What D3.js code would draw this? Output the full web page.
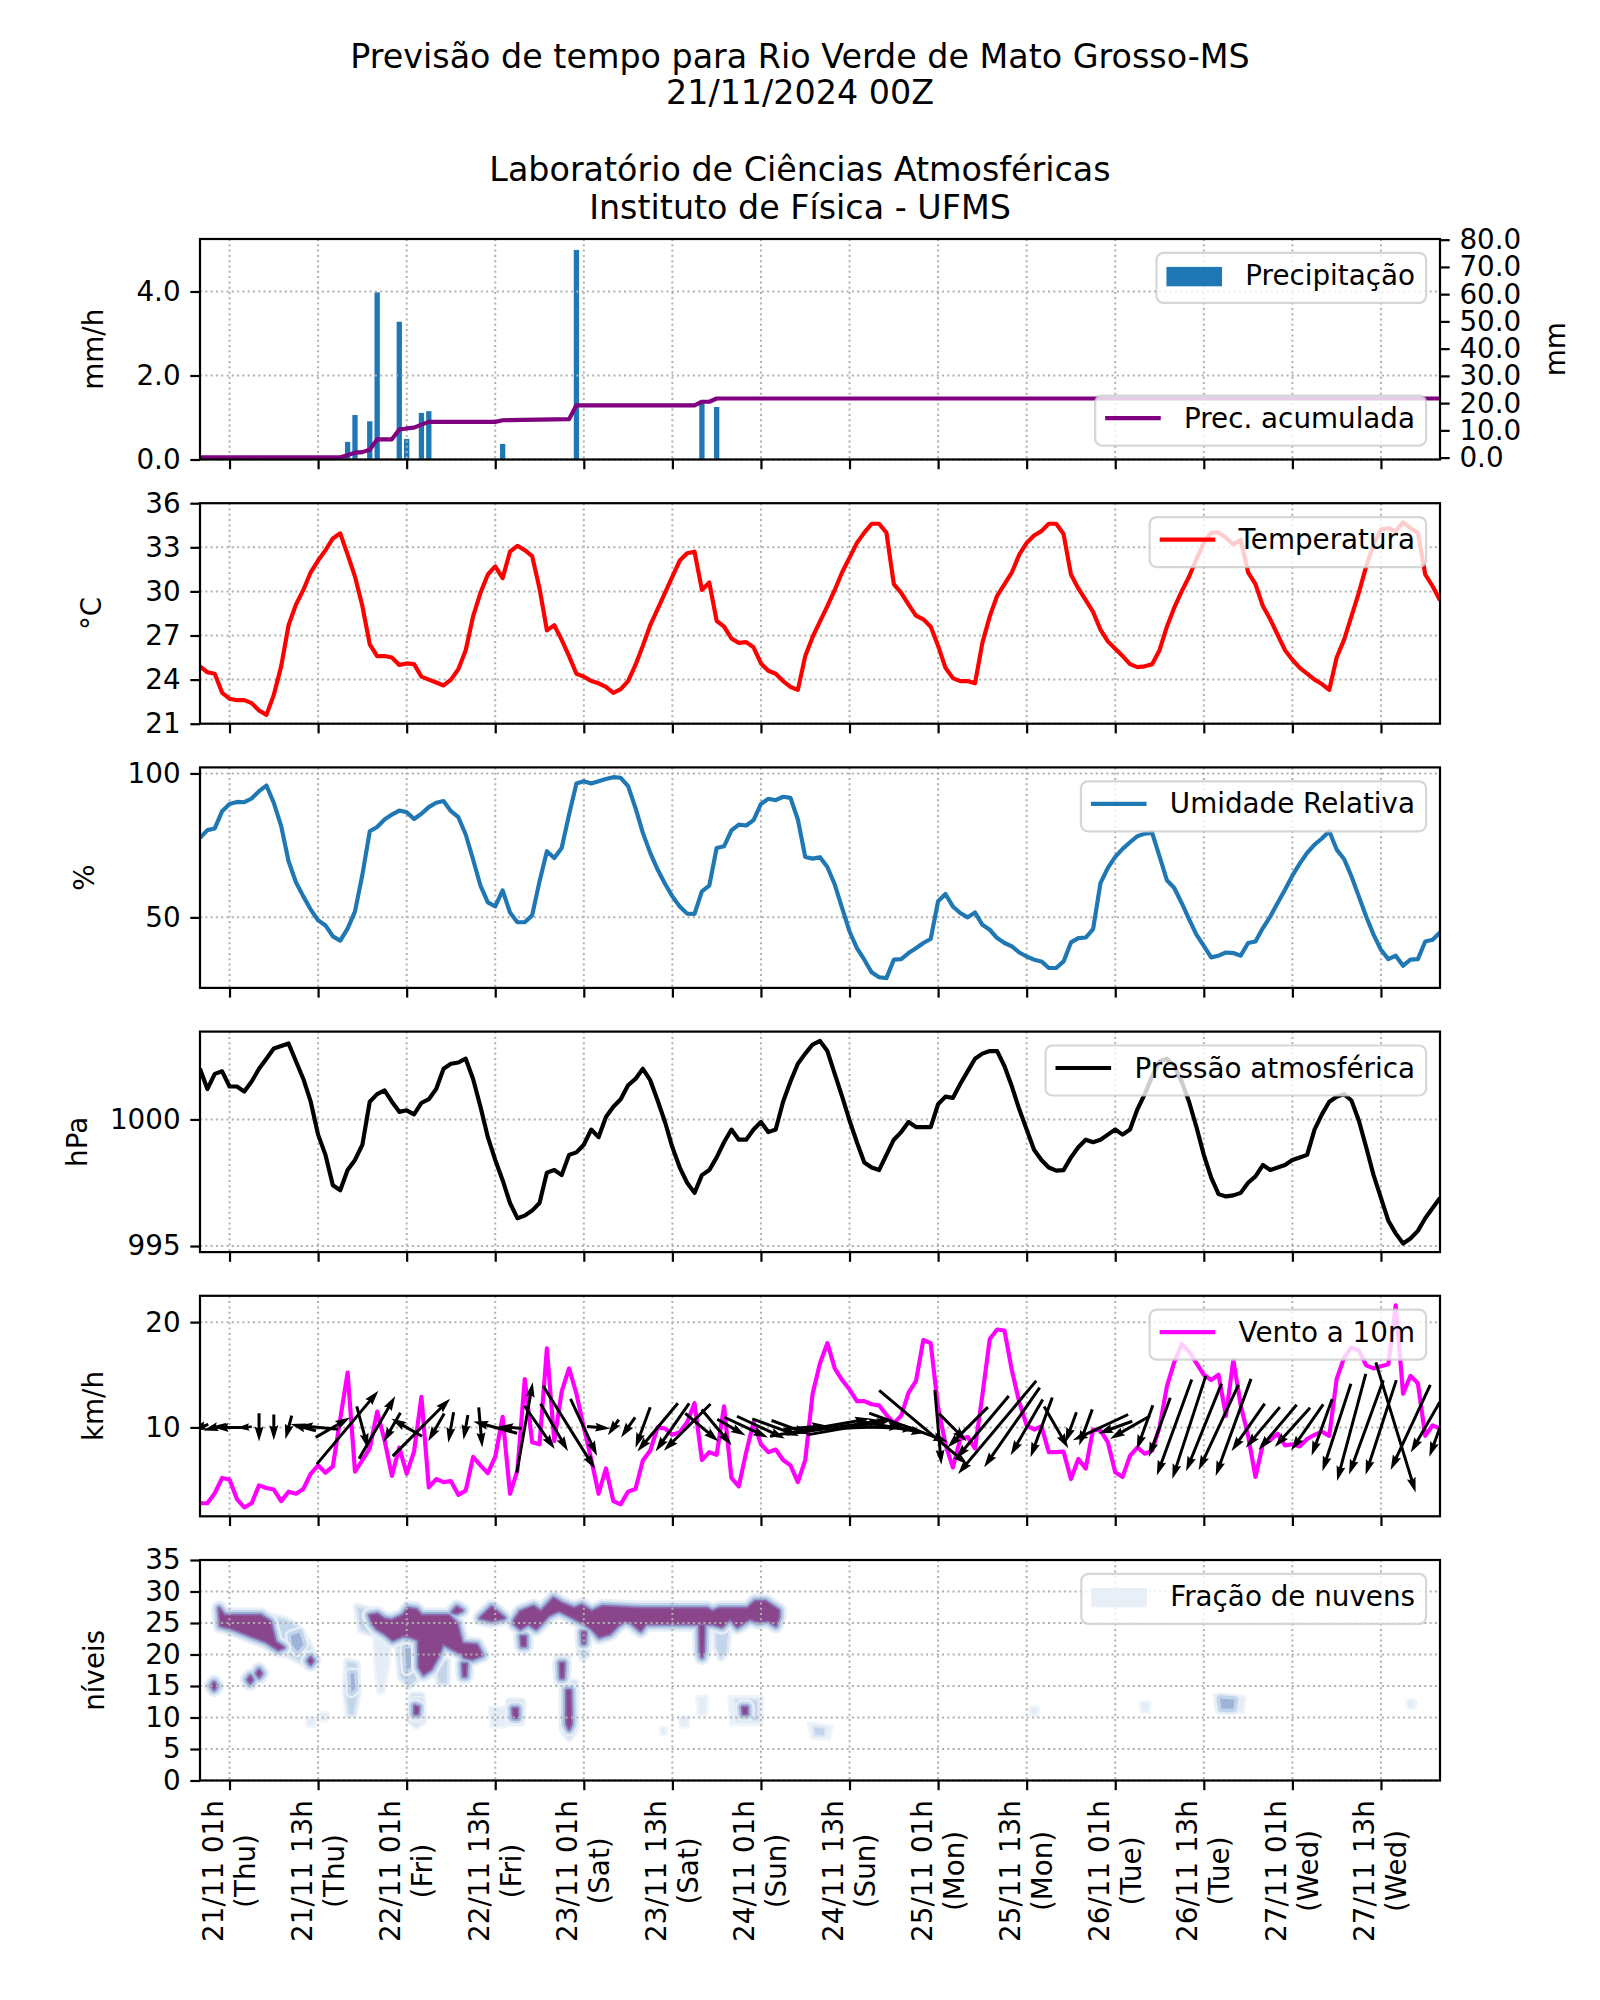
<!DOCTYPE html>
<html><head><meta charset="utf-8">
<script src="https://cdn.jsdelivr.net/npm/d3@7"></script>
<style>body{margin:0;background:#fff} svg{display:block} text{font-family:"DejaVu Sans",sans-serif;fill:#000}</style>
</head><body><svg id="c" width="1600" height="2000"></svg>
<script>
// ---------------- DATA ----------------
const titleLines = ["Previsão de tempo para Rio Verde de Mato Grosso-MS","21/11/2024 00Z"];
const subtitleLines = ["Laboratório de Ciências Atmosféricas","Instituto de Física - UFMS"];
// x axis: hours since 20/11 21h local (first forecast hour)
const xTickHours = [4,16,28,40,52,64,76,88,100,112,124,136,148,160];
const xTickDates = ["21/11 01h","21/11 13h","22/11 01h","22/11 13h","23/11 01h","23/11 13h","24/11 01h","24/11 13h","25/11 01h","25/11 13h","26/11 01h","26/11 13h","27/11 01h","27/11 13h"];
const xTickDays = ["(Thu)","(Thu)","(Fri)","(Fri)","(Sat)","(Sat)","(Sun)","(Sun)","(Mon)","(Mon)","(Tue)","(Tue)","(Wed)","(Wed)"];

const precipHours = [20,21,23,24,27,28,30,31,41,51,68,70];
const precipValues = [0.42,1.06,0.91,3.98,3.28,0.49,1.11,1.15,0.37,4.99,1.34,1.25];
const acumHours = [0,19,20,21,22,23,24,26,27,28,29,30,31,40,41,50,51,67,68,69,70,168];
const acumValues = [0.1,0.1,0.9,1.8,2.0,2.9,6.7,6.7,10.3,10.7,11.0,12.1,13.1,13.1,13.7,14.1,19.2,19.2,20.5,20.5,21.7,21.7];

// hourly series, hour 0..168
const temperature = [24.9,24.5,24.4,23.1,22.7,22.6,22.6,22.4,21.9,21.6,22.96,24.9,27.7,29.1,30.1,31.3,32.1,32.8,33.6,33.95,
32.5,31.0,29.0,26.4,25.6,25.6,25.5,25.0,25.1,25.05,24.2,24.0,23.8,23.6,24.0,24.7,26.0,28.3,29.9,31.15,
31.7,30.9,32.7,33.1,32.8,32.4,30.2,27.35,27.7,26.7,25.6,24.4,24.2,23.9,23.75,23.5,23.1,23.35,23.9,25.0,
26.3,27.7,28.8,29.9,31.0,32.1,32.6,32.7,30.1,30.6,28.0,27.6,26.8,26.5,26.55,26.2,25.1,24.6,24.4,23.9,
23.5,23.3,25.6,26.9,27.96,29.0,30.1,31.3,32.3,33.3,34.0,34.6,34.6,34.0,30.5,29.9,29.1,28.35,28.1,27.6,
26.3,24.8,24.1,23.9,23.9,23.75,26.5,28.3,29.7,30.5,31.3,32.5,33.3,33.8,34.1,34.6,34.6,33.9,31.15,30.2,
29.4,28.6,27.4,26.6,26.1,25.6,25.05,24.85,24.9,25.05,26.0,27.6,28.9,30.0,31.0,32.2,33.3,34.0,34.0,33.65,
33.2,33.5,31.3,30.5,29.0,28.1,27.05,26.0,25.35,24.8,24.4,24.0,23.7,23.3,25.5,26.7,28.3,29.9,31.7,33.2,
34.2,34.3,34.1,34.7,34.3,34.0,31.15,30.35,29.4];
const humidity = [77.6,80.3,80.9,86.9,89.4,90.1,90.0,91.3,93.85,95.8,89.8,81.7,69.5,62.2,57.3,52.7,49.0,47.2,43.4,41.9,
46.1,52.1,64.8,79.9,81.4,84.0,85.7,87.1,86.5,84.2,86.0,88.3,89.8,90.4,86.9,84.8,78.8,70.1,61.0,55.2,
53.8,59.4,51.7,48.3,48.3,50.7,62.5,73.0,70.6,74.1,85.7,96.5,97.3,96.5,97.3,98.1,98.7,98.5,95.6,88.05,
79.35,72.4,66.6,61.7,57.3,53.8,51.3,51.2,59.05,61.0,74.1,74.7,80.2,82.2,81.9,83.8,89.4,91.2,90.7,91.9,
91.5,84.0,71.0,70.4,70.9,67.5,61.4,53.2,45.1,39.3,35.3,30.9,29.2,28.9,35.3,35.5,37.6,39.3,41.1,42.5,
55.6,58.1,53.8,51.5,50.0,51.7,47.4,45.7,42.8,41.1,39.9,37.8,36.4,35.3,34.7,32.4,32.4,34.7,41.3,42.8,
43.0,45.9,61.9,67.2,71.0,73.8,76.1,78.2,79.1,79.35,71.2,62.9,60.2,55.0,49.4,44.0,40.1,36.1,36.7,37.8,
37.6,36.7,41.1,41.6,46.3,50.3,55.0,59.6,64.5,68.7,72.4,75.3,77.4,79.9,73.55,70.3,64.3,57.3,50.3,44.0,
38.75,35.5,36.7,33.2,35.3,35.5,41.6,42.2,44.8];
const pressure = [1002.0,1001.2,1001.8,1001.9,1001.3,1001.3,1001.1,1001.5,1002.0,1002.4,1002.8,1002.9,1003.0,1002.3,1001.6,1000.7,999.4,998.6,997.4,997.2,
998.0,998.4,999.0,1000.7,1001.0,1001.15,1000.7,1000.3,1000.36,1000.2,1000.65,1000.8,1001.2,1002.0,1002.2,1002.25,1002.4,1001.6,1000.5,999.3,
998.4,997.6,996.7,996.1,996.2,996.4,996.7,997.9,998.0,997.8,998.6,998.7,999.0,999.6,999.3,1000.1,1000.5,1000.8,1001.35,1001.6,
1002.0,1001.55,1000.75,999.9,998.9,998.1,997.5,997.1,997.8,998.0,998.5,999.1,999.6,999.2,999.2,999.6,999.9,999.5,999.6,1000.7,
1001.5,1002.2,1002.6,1002.96,1003.1,1002.7,1001.8,1000.9,999.96,999.1,998.3,998.1,998.0,998.6,999.2,999.5,999.9,999.7,999.7,999.7,
1000.6,1000.9,1000.85,1001.4,1001.9,1002.4,1002.6,1002.7,1002.7,1002.1,1001.3,1000.4,999.6,998.8,998.4,998.1,997.98,998.0,998.5,998.9,
999.2,999.1,999.2,999.4,999.6,999.4,999.6,1000.4,1001.0,1001.7,1002.3,1002.4,1002.1,1001.5,1000.7,999.7,998.6,997.7,997.05,996.96,
997.0,997.1,997.5,997.75,998.2,998.0,998.1,998.2,998.4,998.5,998.6,999.6,1000.2,1000.7,1000.9,1001.0,1000.75,999.96,998.9,997.8,
996.9,996.0,995.5,995.1,995.3,995.6,996.1,996.5,996.9];
const windSpeed = [2.8,2.8,3.75,5.2,5.05,3.2,2.4,2.8,4.5,4.25,4.1,3.0,3.9,3.7,4.15,5.6,6.4,5.7,6.3,10.8,
15.2,5.8,6.9,8.0,11.5,8.8,5.4,8.1,5.6,7.7,12.9,4.3,5.1,4.8,4.9,3.6,4.0,7.2,6.4,5.65,
7.2,11.0,3.7,5.9,14.6,8.6,8.4,17.5,8.7,13.4,15.6,13.2,10.0,7.0,3.7,6.1,3.0,2.7,3.9,4.15,
6.85,7.8,10.0,9.9,9.3,9.55,10.5,12.3,6.9,7.65,7.4,12.0,5.2,4.4,7.65,10.5,8.4,7.65,7.9,6.9,
6.4,4.8,6.9,13.2,16.1,18.0,15.6,14.5,13.6,12.5,12.5,12.2,12.1,11.2,10.4,11.1,13.3,14.4,18.3,18.0,
11.9,8.4,6.2,8.9,9.1,8.0,13.05,18.4,19.3,19.2,15.4,12.4,10.2,9.8,10.1,7.65,7.65,7.7,5.1,7.0,
6.1,9.8,9.7,8.6,5.75,5.3,7.3,8.1,7.5,7.8,10.0,13.9,16.2,17.9,17.2,16.1,15.0,14.5,15.0,11.1,
16.4,12.1,9.2,5.3,8.4,8.8,9.4,8.3,8.4,8.2,8.9,9.3,9.6,9.2,14.6,16.6,17.6,17.3,15.9,15.6,
15.8,16.0,21.6,13.2,14.9,14.2,9.2,10.2,9.9];
// wind arrows (every 2 hours): direction the arrow points to, degrees clockwise from north
const windArrowHours = [0,2,4,6,8,10,12,14,16,18,20,22,24,26,28,30,32,34,36,38,40,42,44,46,48,50,52,54,56,58,
60,62,64,66,68,70,72,74,76,78,80,82,84,86,88,90,92,94,96,98,100,102,104,106,108,110,112,114,116,118,
120,122,124,126,128,130,132,134,136,138,140,142,144,146,148,150,152,154,156,158,160,162,164,166,168];
const windArrowDir = [250,255,270,265,180,180,195,285,275,60,40,165,30,210,300,45,210,190,190,175,285,275,10,145,150,148,155,95,215,215,
200,220,215,225,130,140,120,115,115,110,110,85,80,82,80,88,92,100,110,130,175,135,225,220,220,215,210,200,150,200,
200,245,250,240,200,200,200,198,202,205,200,215,220,220,222,215,200,198,195,200,198,163,205,210,200];

// cloud fraction areas: class (1 faint .. 4 dense), outline as [hour, level]
const cloudAreas = [
 {c:1,p:[[14.5,9.8],[15.6,9.8],[15.4,8.7],[14.6,8.7]]},
 {c:1,p:[[16.3,10.7],[17.3,10.7],[17.2,9.6],[16.4,9.6]]},
 {c:2,p:[[9.5,26],[11.5,25.5],[13,24.5],[14.5,22],[15.5,19.5],[15,18.3],[13.5,19],[12,20],[10.5,20.3]]},
 {c:3,p:[[12.3,23],[13.5,23.5],[14,21.5],[13.2,20.5],[12.5,21.5]]},
 {c:2,p:[[20,18.8],[21.2,18.5],[21.3,14],[20.8,10.5],[20.2,10.5],[19.8,14]]},
 {c:3,p:[[20.4,17],[20.9,17],[21,14.5],[20.5,14]]},
 {c:1,p:[[23.6,23],[25.8,23],[25.5,18],[24.8,14],[24.2,14],[23.8,18]]},
 {c:2,p:[[21.3,27.5],[23,27],[23,23.5],[21.8,24]]},
 {c:2,p:[[26.8,22],[29.5,22.5],[29.3,16],[28.3,15],[27.2,16.5]]},
 {c:3,p:[[27.8,21],[28.8,21],[28.6,18],[28,17.5]]},
 {c:2,p:[[28.8,13.5],[30,13.5],[30.2,9.5],[29.3,8.8],[28.6,9.5]]},
 {c:3,p:[[29,12.5],[29.8,12.5],[29.8,10],[29.1,10]]},
 {c:2,p:[[32,18.5],[33.5,19],[33.4,15.5],[32.4,15.5]]},
 {c:1,p:[[39.3,11.5],[41.3,11.5],[41.3,8.6],[39.5,8.6]]},
 {c:2,p:[[41.9,12.5],[43.6,12.5],[43.5,9.3],[42,9.3]]},
 {c:2,p:[[48.4,19.5],[49.8,19.5],[49.6,15.5],[48.6,15.5]]},
 {c:2,p:[[49.2,15.5],[50.8,15.5],[50.8,8],[50,6.8],[49.2,8]]},
 {c:2,p:[[51.4,24.6],[52.6,24.6],[52.4,20],[51.9,19.4],[51.5,20.5]]},
 {c:1,p:[[62.5,8.3],[63.1,8.3],[63,7.4],[62.6,7.4]]},
 {c:1,p:[[65,10],[66.2,10],[66,8.6],[65.2,8.6]]},
 {c:1,p:[[67.4,13.2],[68.6,13.2],[68.5,10.5],[67.6,10.5]]},
 {c:2,p:[[69.8,24.5],[71.6,24.5],[71.3,20.5],[70.6,19.5],[70,21]]},
 {c:1,p:[[71.8,13.2],[76.2,13.2],[76,9],[72,9]]},
 {c:2,p:[[72.6,12.7],[75.5,12.7],[75.5,9.6],[72.8,9.6]]},
 {c:1,p:[[82.5,9],[85.5,8.5],[85.2,6.7],[83,6.8]]},
 {c:2,p:[[83.2,8.4],[84.6,8.2],[84.5,7.2],[83.3,7.3]]},
 {c:1,p:[[112.5,11.5],[113.5,11.5],[113.4,10.5],[112.6,10.5]]},
 {c:1,p:[[127.5,12.3],[128.6,12.3],[128.5,11],[127.6,11]]},
 {c:1,p:[[137.5,13.5],[141.5,13.2],[141.3,11],[137.8,11]]},
 {c:3,p:[[138.2,13],[140.2,12.8],[140,11.4],[138.4,11.4]]},
 {c:1,p:[[163.6,12.6],[164.6,12.6],[164.5,11.6],[163.7,11.6]]},
 // dense
 {c:4,p:[[2.6,27.3],[3.3,26.2],[8.2,26.2],[9.5,25.2],[10.2,22.0],[11.3,21.1],[10.6,20.8],[8.9,22.1],[6.8,23.0],[4.7,24.0],[2.8,24.6]]},
 {c:4,p:[[1.6,15],[1.9,15.5],[2.2,15],[1.9,14.5]]},
 {c:4,p:[[6.5,16],[6.8,16.5],[7.1,16],[6.8,15.5]]},
 {c:4,p:[[7.7,17],[8.0,17.5],[8.3,17],[8.0,16.5]]},
 {c:4,p:[[14.7,19],[15,19.5],[15.3,19],[15,18.5]]},
 {c:4,p:[[23,26.2],[24,26.4],[25,25.6],[26,25.4],[27.5,26.2],[28.2,27.3],[29.3,27.1],[30,26.2],[33.7,26.2],[34.8,24.9],[35.5,21.7],[37.5,21.5],[38.2,19.9],[36.9,19.3],[35.8,19.6],[35.5,20.1],[32.9,21.7],[32.2,19.6],[31.3,17.7],[30.3,16.9],[29.7,18],[29.6,22.3],[28.6,22.8],[27.5,23],[26.1,22.3],[25.1,23.3],[24,24.1],[23.4,24.9]]},
 {c:4,p:[[29.1,11.8],[29.6,11.6],[29.5,10.6],[29.1,10.6]]},
 {c:4,p:[[35.6,18.5],[36.1,18.5],[36,16.6],[35.7,16.6]]},
 {c:4,p:[[34.2,26.7],[34.8,27.5],[35.5,27],[34.8,26.6]]},
 {c:4,p:[[38,25.8],[39.5,27.5],[41.2,25.8],[39.5,25.4]]},
 {c:4,p:[[42.6,25.4],[43.4,26.8],[45.2,27.6],[46.2,26.8],[47.9,28.9],[49.0,28.1],[50.7,27.3],[51.7,27.8],[53.1,26.8],[54.5,27.6],[59.7,27.3],[68.7,27.3],[69.4,26.8],[70.4,27.3],[74.2,27.3],[75.2,28.4],[76.6,28.4],[78.4,27.0],
   [78.4,26.0],[78.0,24.6],[77.0,25.4],[75.6,25.2],[74.5,25.7],[72.8,24.4],[71.8,25.7],[70.7,24.4],[69.4,24.9],[67.6,24.9],[60.4,24.9],[59.7,23.8],[58.6,24.9],[57.6,25.4],[56.6,24.6],[55.5,23.3],[54.1,22.8],[53.1,24.1],[52.1,24.9],[50.0,26.2],[48.6,27.0],[47.2,26.2],[46.2,24.9],[45.5,24.1],[44.5,24.9],[43.4,24.1],[42.6,24.9]]},
 {c:4,p:[[43.5,22.8],[44.1,22.8],[44.1,21.4],[43.6,21.4]]},
 {c:4,p:[[51.8,23.5],[52.2,23.5],[52.1,21.8],[51.9,21.8]]},
 {c:4,p:[[67.7,24.6],[68.3,24.6],[68.2,20.5],[68,19.6],[67.8,20.5]]},
 {c:4,p:[[48.8,18.6],[49.3,18.6],[49.2,16.3],[48.9,16.3]]},
 {c:4,p:[[49.7,14.3],[50.2,14.3],[50.3,9],[50,8.2],[49.7,9]]},
 {c:4,p:[[42.4,11.4],[43,11.4],[43,10],[42.5,10]]},
 {c:4,p:[[73.5,11.6],[74.1,11.6],[74.1,10.6],[73.6,10.6]]}
];

// ---------------- LAYOUT ----------------
const svg = d3.select("#c");
const FS = 27.78, TFS = 33.33;
const L = 200, R = 1440, H = 220.5;
const x = d3.scaleLinear().domain([0,168]).range([L,R]);

svg.append("rect").attr("width",1600).attr("height",2000).attr("fill","#fff");

// titles
[[titleLines[0],68],[titleLines[1],104],[subtitleLines[0],181],[subtitleLines[1],219]].forEach(([t,yy])=>{
  svg.append("text").attr("x",800).attr("y",yy).attr("text-anchor","middle").attr("font-size",TFS).text(t);
});

function makePanel(i, domain, ticks, fmt, ylabel, ylabelX) {
  const top = 239 + 264.2*i;
  const y = d3.scaleLinear().domain(domain).range([top+H, top]);
  const id = "clip"+i;
  svg.append("clipPath").attr("id",id).append("rect").attr("x",L).attr("y",top).attr("width",R-L).attr("height",H);
  const under = svg.append("g").attr("clip-path",`url(#${id})`);
  const grid = svg.append("g");
  const over = svg.append("g").attr("clip-path",`url(#${id})`);
  const frame = svg.append("g");
  const leg = svg.append("g");
  xTickHours.forEach(h=>grid.append("line").attr("x1",x(h)).attr("x2",x(h)).attr("y1",top).attr("y2",top+H)
     .attr("stroke","#b0b0b0").attr("stroke-width",2).attr("stroke-dasharray","2,3.3"));
  ticks.forEach(v=>grid.append("line").attr("x1",L).attr("x2",R).attr("y1",y(v)).attr("y2",y(v))
     .attr("stroke","#b0b0b0").attr("stroke-width",2).attr("stroke-dasharray","2,3.3"));
  const ax = frame.append("g").attr("transform",`translate(${L},0)`)
     .call(d3.axisLeft(y).tickValues(ticks).tickFormat(fmt).tickSize(9.7).tickPadding(9.7));
  styleAxis(ax);
  const bx = frame.append("g").attr("transform",`translate(0,${top+H})`)
     .call(d3.axisBottom(x).tickValues(xTickHours).tickFormat("").tickSize(9.7));
  styleAxis(bx);
  frame.append("rect").attr("x",L).attr("y",top).attr("width",R-L).attr("height",H)
     .attr("fill","none").attr("stroke","#000").attr("stroke-width",2.2);
  frame.append("text").attr("transform",`translate(${ylabelX},${top+H/2}) rotate(-90)`)
     .attr("text-anchor","middle").attr("font-size",FS).text(ylabel);
  return {top,y,under,over,frame,leg};
}
function styleAxis(a){
  a.select(".domain").remove();
  a.selectAll(".tick line").attr("stroke","#000").attr("stroke-width",2.2);
  a.selectAll(".tick text").attr("font-size",FS).attr("font-family","DejaVu Sans").attr("fill","#000");
}
function legend(p, items, where) {
  const g = p.leg.append("g");
  const texts = items.map(it=>g.append("text").attr("font-size",FS).text(it.label));
  const tw = d3.max(texts.map(t=>t.node().getComputedTextLength()));
  const w = 11.1*2 + 55.6 + 22.2 + tw, h = 50*items.length;
  const right = R - 13.9;
  const left = right - w;
  const top = where==="upper" ? p.top + 13.9 : p.top + H - 13.9 - h;
  g.insert("rect","text").attr("x",left).attr("y",top).attr("width",w).attr("height",h).attr("rx",7)
    .attr("fill","#fff").attr("fill-opacity",0.8).attr("stroke","#cccccc").attr("stroke-opacity",0.8).attr("stroke-width",2.2);
  items.forEach((it,k)=>{
    const t0 = top + k*50;
    if (it.type==="line") g.append("line").attr("x1",left+10).attr("x2",left+10+55.6).attr("y1",t0+22.5).attr("y2",t0+22.5)
       .attr("stroke",it.color).attr("stroke-width",4.17);
    else g.append("rect").attr("x",left+10).attr("y",t0+14).attr("width",55.6).attr("height",19.4).attr("fill",it.color);
    texts[k].attr("x",left+88.9).attr("y",t0+32).raise();
  });
}
const lineGen = (y, vals) => d3.line().x((d,i)=>x(i)).y(d=>y(d))(vals);

// ---------- Panel 1: precipitation ----------
const p1 = makePanel(0,[0,5.25],[0,2,4],d3.format(".1f"),"mm/h",103);
const y1r = d3.scaleLinear().domain([-0.7,80.25]).range([p1.top+H,p1.top]);
p1.under.selectAll("rect.bar").data(precipHours).enter().append("rect")
  .attr("x",(h)=>x(h-0.36)).attr("width",x(0.72)-x(0)).attr("y",(h,i)=>p1.y(precipValues[i]))
  .attr("height",(h,i)=>p1.y(0)-p1.y(precipValues[i])).attr("fill","#1f77b4");
p1.over.append("path").attr("d",d3.line().x((h)=>x(h)).y((h,i)=>y1r(acumValues[i]))(acumHours))
  .attr("fill","none").attr("stroke","#800080").attr("stroke-width",4.17).attr("stroke-linejoin","round");
const rax = p1.frame.append("g").attr("transform",`translate(${R},0)`)
  .call(d3.axisRight(y1r).tickValues([0,10,20,30,40,50,60,70,80]).tickFormat(d3.format(".1f")).tickSize(9.7).tickPadding(9.7));
styleAxis(rax);
p1.frame.append("text").attr("transform",`translate(1565,${p1.top+H/2}) rotate(-90)`).attr("text-anchor","middle").attr("font-size",FS).text("mm");
legend(p1,[{type:"patch",color:"#1f77b4",label:"Precipitação"}],"upper");
legend(p1,[{type:"line",color:"#800080",label:"Prec. acumulada"}],"lower");

// ---------- Panel 2: temperature ----------
const p2 = makePanel(1,[21,36],[21,24,27,30,33,36],d3.format("d"),"°C",101);
p2.over.append("path").attr("d",lineGen(p2.y,temperature)).attr("fill","none").attr("stroke","#ff0000").attr("stroke-width",4.17).attr("stroke-linejoin","round");
legend(p2,[{type:"line",color:"#ff0000",label:"Temperatura"}],"upper");

// ---------- Panel 3: humidity ----------
const p3 = makePanel(2,[25.5,102.1],[50,100],d3.format("d"),"%",94);
p3.over.append("path").attr("d",lineGen(p3.y,humidity)).attr("fill","none").attr("stroke","#1f77b4").attr("stroke-width",4.17).attr("stroke-linejoin","round");
legend(p3,[{type:"line",color:"#1f77b4",label:"Umidade Relativa"}],"upper");

// ---------- Panel 4: pressure ----------
const p4 = makePanel(3,[994.76,1003.47],[995,1000],d3.format("d"),"hPa",87);
p4.over.append("path").attr("d",lineGen(p4.y,pressure)).attr("fill","none").attr("stroke","#000").attr("stroke-width",4.17).attr("stroke-linejoin","round");
legend(p4,[{type:"line",color:"#000",label:"Pressão atmosférica"}],"upper");

// ---------- Panel 5: wind ----------
const p5 = makePanel(4,[1.56,22.5],[10,20],d3.format("d"),"km/h",103);
p5.over.append("path").attr("d",lineGen(p5.y,windSpeed)).attr("fill","none").attr("stroke","#ff00ff").attr("stroke-width",4.17).attr("stroke-linejoin","round");
function arrowPath(cx, cy, Lpx, dirDeg){
  const a = dirDeg*Math.PI/180, ux = Math.sin(a), uy = -Math.cos(a), px = -uy, py = ux;
  let sw=3, hl=15, hal=13.5, hw=9;
  if (Lpx < hl*1.2){ const f = Lpx/(hl*1.2); sw*=f; hl*=f; hal*=f; hw*=f; }
  const tx = cx-ux*Lpx/2, ty = cy-uy*Lpx/2, ex = cx+ux*Lpx/2, ey = cy+uy*Lpx/2;
  const bx = ex-ux*hal, by = ey-uy*hal, hx = ex-ux*hl, hy = ey-uy*hl;
  const P = [[tx+px*sw/2,ty+py*sw/2],[bx+px*sw/2,by+py*sw/2],[hx+px*hw/2,hy+py*hw/2],[ex,ey],
             [hx-px*hw/2,hy-py*hw/2],[bx-px*sw/2,by-py*sw/2],[tx-px*sw/2,ty-py*sw/2]];
  return "M"+P.map(q=>q.join(",")).join("L")+"Z";
}
const arrowScale = 6.3; // px per km/h
p5.over.selectAll("path.arrow").data(windArrowHours).enter().append("path")
  .attr("d",(h,i)=>arrowPath(x(h), p5.y(10), windSpeed[h]*arrowScale, windArrowDir[i])).attr("fill","#000");
legend(p5,[{type:"line",color:"#ff00ff",label:"Vento a 10m"}],"upper");

// ---------- Panel 6: clouds ----------
const p6 = makePanel(5,[0,35],[0,5,10,15,20,25,30,35],d3.format("d"),"níveis",104);
const cl = d3.line().x(d=>x(d[0])).y(d=>p6.y(d[1])).curve(d3.curveLinearClosed);
const fills = {1:"#e4edf6",2:"#c3d5ea",3:"#9db4d8",4:"#8a468b"};
const halos = {
  1:[["#f0f5fa",5]],
  2:[["#edf3f9",9],["#dce7f3",5]],
  3:[["#e6eef7",12],["#c3d5ea",7]],
  4:[["#e6eef7",16],["#c3d5ea",11],["#9db4d8",7],["#8c6bb1",3.5]]
};
[1,2,3,4].forEach(c=>{
  const areas = cloudAreas.filter(a=>a.c===c);
  halos[c].forEach(([col,wid])=>{
    areas.forEach(a=>p6.under.append("path").attr("d",cl(a.p)).attr("fill",col).attr("stroke",col).attr("stroke-width",wid).attr("stroke-linejoin","round"));
  });
  areas.forEach(a=>p6.under.append("path").attr("d",cl(a.p)).attr("fill",fills[c]));
});
legend(p6,[{type:"patch",color:"#e8eff7",label:"Fração de nuvens"}],"upper");

// x tick labels on bottom panel
const xl = svg.append("g");
xTickHours.forEach((h,i)=>{
  const g = xl.append("g").attr("transform",`translate(${x(h)},1871) rotate(-90)`);
  g.append("text").attr("y",-16).attr("dominant-baseline","central").attr("text-anchor","middle").attr("font-size",FS).text(xTickDates[i]);
  g.append("text").attr("y",16).attr("dominant-baseline","central").attr("text-anchor","middle").attr("font-size",FS).text(xTickDays[i]);
});
</script></body></html>
